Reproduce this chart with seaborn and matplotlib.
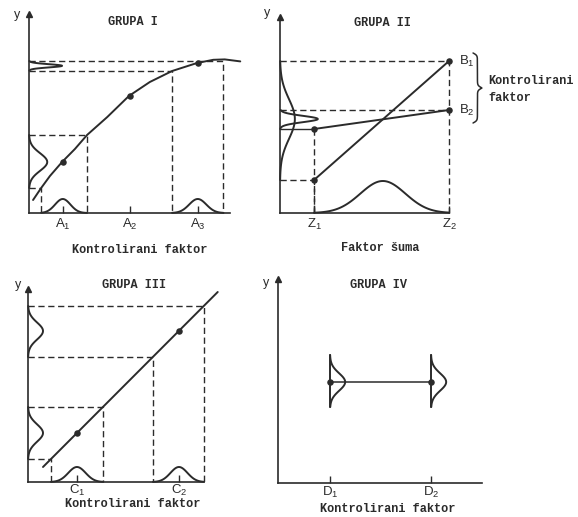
import numpy as np
import matplotlib
matplotlib.use("Agg")
import matplotlib.pyplot as plt
import seaborn as sns

# ---------------- data ----------------
# GRUPA I : nonlinear response to controlled factor A
A_levels = [1, 2, 3]
A_labels = ["A$_1$", "A$_2$", "A$_3$"]
A_resp = [2.55, 5.85, 7.50]
curve_I_x = [0.56, 0.68, 0.81, 0.99, 1.18, 1.36, 1.66, 1.98, 2.29, 2.62, 2.99, 3.23, 3.40, 3.63]
curve_I_y = [0.65, 1.25, 1.85, 2.55, 3.20, 3.90, 4.80, 5.85, 6.55, 7.10, 7.50, 7.66, 7.68, 7.58]
I_corner_x = [0.68, 1.36, 2.62, 3.38]
I_corner_y = [1.25, 3.90, 7.12, 7.60]
I_xbell_c = [1, 3]
I_xbell_lo = [0.68, 2.62]
I_xbell_hi = [1.36, 3.38]
I_ybell_c = [2.55, 7.36]
I_ybell_lo = [1.25, 7.12]
I_ybell_hi = [3.90, 7.60]
I_ybell_amp = [0.27, 0.49]

# GRUPA II : noise factor Z, two settings of controlled factor B
Z_levels = [1, 2]
Z_labels = ["Z$_1$", "Z$_2$"]
B1_y = [1.65, 7.60]
B2_y = [4.20, 5.15]
II_xbell = dict(c=1.51, lo=1.0, hi=2.0, amp=1.6)
II_ybell_c = [4.70, 4.70]
II_ybell_lo = [1.65, 4.20]
II_ybell_hi = [7.60, 5.15]
II_ybell_amp = [0.11, 0.28]

# GRUPA III : linear response to controlled factor C
C_levels = [1, 2]
C_labels = ["C$_1$", "C$_2$"]
C_resp = [2.45, 7.55]
line_III_x = [0.667, 2.38]
line_III_y = [0.75, 9.50]
III_corner_x = [0.745, 1.255, 1.745, 2.245]
III_corner_y = [1.15, 3.75, 6.25, 8.80]
III_ybell_c = [2.45, 7.55]
III_ybell_lo = [1.15, 6.25]
III_ybell_hi = [3.75, 8.80]

# GRUPA IV : factor D with no effect
D_levels = [1, 2]
D_labels = ["D$_1$", "D$_2$"]
D_resp = [5.05, 5.05]
D_lo = [3.80, 3.80]
D_hi = [6.40, 6.40]

# ---------------- style ----------------
sns.set_theme(style="white")
plt.rcParams["font.family"] = ["Liberation Sans", "DejaVu Sans"]
plt.rcParams["mathtext.fontset"] = "custom"
plt.rcParams["mathtext.rm"] = "Liberation Sans"
plt.rcParams["mathtext.it"] = "Liberation Sans:italic"

INK = "#2b2b2b"
LW = 1.4
DLW = 1.0
DASH = (0, (4.5, 2.6))
MONO = dict(family="Liberation Mono", weight="bold", size=8.6, color=INK)

W, H = 578, 517
fig = plt.figure(figsize=(W / 100, H / 100), dpi=100)
fig.patch.set_facecolor("white")


def make_ax(ox, oy, x0, ppx, right_px, top_px, ppy=20.0):
    ax = fig.add_axes([ox / W, (H - oy) / H, (right_px - ox) / W, (oy - top_px) / H])
    ax.set_xlim(x0, x0 + (right_px - ox) / ppx)
    ax.set_ylim(0, (oy - top_px) / ppy)
    ax.patch.set_alpha(0)
    return ax


def frame(ax, x_end, y_top, ticks, labels, pad=3):
    for s in ["top", "right"]:
        ax.spines[s].set_visible(False)
    x0 = ax.get_xlim()[0]
    for s in ["left", "bottom"]:
        ax.spines[s].set_color(INK)
        ax.spines[s].set_linewidth(1.2)
    ax.spines["left"].set_bounds(0, y_top - 0.2)
    ax.spines["bottom"].set_bounds(x0, x_end)
    ax.plot([x0], [y_top - 0.2], marker="^", ms=5, color=INK, clip_on=False, zorder=6)
    ax.set_yticks([])
    ax.set_xticks(ticks)
    ax.set_xticklabels(labels)
    ax.tick_params(axis="x", direction="in", length=5, width=1, color=INK,
                   labelcolor=INK, labelsize=9.5, pad=pad)
    ax.tick_params(axis="x", bottom=True)


def line(ax, x, y, lw=LW, ls="-"):
    sns.lineplot(x=np.asarray(x, float), y=np.asarray(y, float), ax=ax, sort=False,
                 estimator=None, color=INK, lw=lw, linestyle=ls, legend=False,
                 clip_on=False)


def guide(ax, cx, cy):
    x0 = ax.get_xlim()[0]
    line(ax, [x0, cx, cx], [cy, cy, 0], lw=DLW, ls=DASH)


def dots(ax, x, y):
    sns.scatterplot(x=x, y=y, ax=ax, color=INK, s=22, edgecolor=INK, linewidth=0,
                    zorder=5, legend=False, clip_on=False)


def bell_x(ax, c, lo, hi, amp):
    sig = (hi - lo) / 6.0
    xs = np.linspace(lo, hi, 120)
    line(ax, xs, amp * np.exp(-0.5 * ((xs - c) / sig) ** 2))


def bell_y(ax, base, c, lo, hi, amp):
    sig = (hi - lo) / 6.0
    ys = np.linspace(lo, hi, 120)
    line(ax, base + amp * np.exp(-0.5 * ((ys - c) / sig) ** 2), ys)


def ftext(px, py, s, **kw):
    fig.text(px / W, 1 - py / H, s, ha=kw.pop("ha", "center"), va=kw.pop("va", "center"), **kw)


# ---------------- GRUPA I ----------------
ax1 = make_ax(29, 213, 0.5, 67.5, 250, 8)
frame(ax1, 3.48, 10.15, A_levels, A_labels)
for cx, cy in zip(I_corner_x, I_corner_y):
    guide(ax1, cx, cy)
line(ax1, curve_I_x, curve_I_y)
dots(ax1, A_levels, A_resp)
for c, lo, hi in zip(I_xbell_c, I_xbell_lo, I_xbell_hi):
    bell_x(ax1, c, lo, hi, 0.7)
for c, lo, hi, a in zip(I_ybell_c, I_ybell_lo, I_ybell_hi, I_ybell_amp):
    bell_y(ax1, 0.5, c, lo, hi, a)
ftext(17, 15, "y", size=9, color=INK)
ftext(133, 22, "GRUPA I", **MONO)
ftext(140, 250, "Kontrolirani faktor", **MONO)

# ---------------- GRUPA II ----------------
ax2 = make_ax(280, 213, 0.748, 135.0, 470, 8)
frame(ax2, 2.0, 10.0, Z_levels, Z_labels)
x0 = ax2.get_xlim()[0]
guide(ax2, Z_levels[1], B1_y[1])
line(ax2, [x0, Z_levels[1]], [B2_y[1], B2_y[1]], lw=DLW, ls=DASH)
guide(ax2, Z_levels[0], B1_y[0])
line(ax2, [Z_levels[0], Z_levels[0]], [B2_y[0], 0], lw=DLW, ls=DASH)
line(ax2, [x0, Z_levels[0]], [B2_y[0], B2_y[0]], lw=DLW)
line(ax2, Z_levels, B1_y)
line(ax2, Z_levels, B2_y)
dots(ax2, Z_levels + Z_levels, B1_y + B2_y)
bell_x(ax2, II_xbell["c"], II_xbell["lo"], II_xbell["hi"], II_xbell["amp"])
for c, lo, hi, a in zip(II_ybell_c, II_ybell_lo, II_ybell_hi, II_ybell_amp):
    bell_y(ax2, x0, c, lo, hi, a)
for yb, lab in zip([B1_y[1], B2_y[1]], ["B$_1$", "B$_2$"]):
    ax2.text(Z_levels[1] + 0.075, yb, lab, ha="left", va="center", size=9.5, color=INK)
# brace grouping B1 and B2
ylo, yhi = B2_y[1] - 0.65, B1_y[1] + 0.4
yy = np.linspace(ylo, yhi, 400)
half = yy[:200]
beta = 60.0 / (yhi - ylo)
xh = 1 / (1 + np.exp(-beta * (half - half[0]))) + 1 / (1 + np.exp(-beta * (half - half[-1])))
xb = np.concatenate([xh, xh[::-1]]) - 0.5
ax2.plot(2.178 + 0.065 * xb, yy, color=INK, lw=1.1, clip_on=False)
ftext(267, 13, "y", size=9, color=INK)
ftext(383, 23, "GRUPA II", **MONO)
ftext(380, 248, "Faktor šuma", **MONO)
ftext(488, 81, "Kontrolirani", ha="left", **MONO)
ftext(488, 98, "faktor", ha="left", **MONO)

# ---------------- GRUPA III ----------------
ax3 = make_ax(28, 482, 0.52, 102.0, 240, 280)
frame(ax3, 2.25, 9.85, C_levels, C_labels, pad=1)
for cx, cy in zip(III_corner_x, III_corner_y):
    guide(ax3, cx, cy)
line(ax3, line_III_x, line_III_y)
dots(ax3, C_levels, C_resp)
for c, lo, hi in zip(C_levels, III_corner_x[0::2], III_corner_x[1::2]):
    bell_x(ax3, c, lo, hi, 0.75)
for c, lo, hi in zip(III_ybell_c, III_ybell_lo, III_ybell_hi):
    bell_y(ax3, 0.52, c, lo, hi, 0.147)
ftext(18, 285, "y", size=9, color=INK)
ftext(134, 285, "GRUPA III", **MONO)
ftext(133, 504, "Kontrolirani faktor", **MONO)

# ---------------- GRUPA IV ----------------
ax4 = make_ax(278, 483, 0.485, 101.0, 500, 270)
frame(ax4, 2.505, 10.4, D_levels, D_labels, pad=1.5)
line(ax4, D_levels, D_resp, lw=1.1)
for d, lo, hi, r in zip(D_levels, D_lo, D_hi, D_resp):
    line(ax4, [d, d], [lo, hi])
    bell_y(ax4, d, r, lo, hi, 0.15)
dots(ax4, D_levels, D_resp)
ftext(266, 283, "y", size=9, color=INK)
ftext(378, 285, "GRUPA IV", **MONO)
ftext(388, 509, "Kontrolirani faktor", **MONO)

fig.savefig("out.png", dpi=100, facecolor="white")
